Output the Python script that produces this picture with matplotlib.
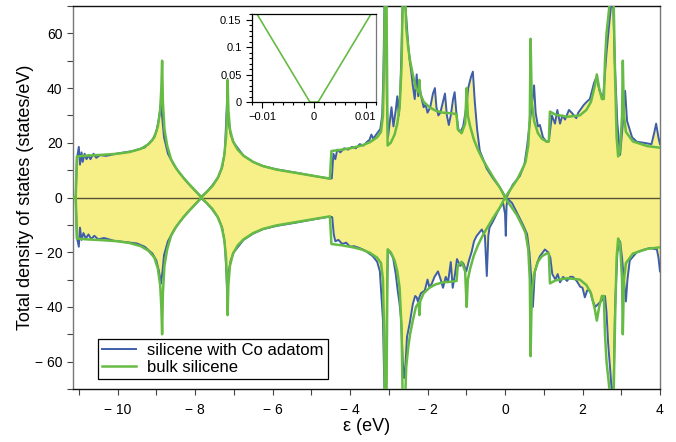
import matplotlib
matplotlib.use("Agg")
import matplotlib.pyplot as plt
from matplotlib.ticker import MultipleLocator, FuncFormatter

plt.rcParams['font.family'] = ['Liberation Sans', 'DejaVu Sans']

# bulk silicene DOS (symmetric spin up / spin down), (energy eV, states/eV)
green_pts = [
    (-11.15, 0), (-11.08, 0), (-11.05, 15.0), (-10.8, 15.3), (-10.4, 15.6), (-10.0, 16.0),
    (-9.7, 16.6), (-9.4, 17.8), (-9.2, 19.5), (-9.05, 22), (-8.96, 26), (-8.9, 32),
    (-8.87, 40), (-8.85, 50), (-8.83, 35), (-8.79, 25), (-8.72, 19), (-8.62, 14),
    (-8.48, 10.5), (-8.3, 7.2), (-8.14, 4.7), (-7.98, 2.3), (-7.84, 0), (-7.7, 2.0),
    (-7.55, 4.2), (-7.42, 7.0), (-7.32, 10.5), (-7.25, 15), (-7.2, 22), (-7.17, 32),
    (-7.16, 43), (-7.14, 32), (-7.1, 25), (-7.02, 20.5), (-6.9, 17.5), (-6.75, 15.3),
    (-6.5, 13.0), (-6.25, 11.5), (-5.9, 10.2), (-5.4, 9.0), (-4.9, 7.8), (-4.52, 6.9),
    (-4.48, 17.0), (-4.2, 17.5), (-3.93, 18.2), (-3.7, 19.0), (-3.49, 20.2), (-3.3, 22),
    (-3.2, 24), (-3.15, 30), (-3.12, 50), (-3.1, 75), (-3.06, 75), (-3.03, 19),
    (-2.95, 20), (-2.85, 23), (-2.78, 27), (-2.72, 33), (-2.67, 48), (-2.64, 75),
    (-2.58, 75), (-2.55, 62), (-2.5, 55), (-2.45, 50), (-2.38, 45), (-2.3, 40),
    (-2.23, 38.5), (-2.21, 43), (-2.19, 38), (-2.1, 35), (-1.95, 33), (-1.8, 31.8),
    (-1.6, 31), (-1.4, 30.8), (-1.25, 30.5), (-1.22, 25), (-1.12, 23.5), (-1.03, 27),
    (-0.99, 40), (-0.96, 30), (-0.9, 26), (-0.8, 21), (-0.7, 17.5), (-0.58, 14),
    (-0.47, 11.3), (-0.3, 7.3), (-0.13, 3.6), (0.0, 0.0), (0.12, 2.5), (0.31, 6.5),
    (0.45, 10.5), (0.53, 13), (0.6, 19), (0.64, 30), (0.66, 58), (0.69, 35),
    (0.75, 28), (0.85, 23.5), (0.95, 21.5), (1.08, 20.4), (1.13, 20.5), (1.16, 31.4),
    (1.3, 30.3), (1.6, 29.5), (1.93, 30), (2.1, 32), (2.22, 35), (2.32, 41),
    (2.37, 45), (2.43, 40), (2.5, 36), (2.55, 36), (2.58, 50), (2.62, 60),
    (2.68, 68), (2.72, 75), (2.8, 75), (2.84, 45), (2.88, 22), (2.92, 15),
    (2.97, 17), (3.02, 30), (3.04, 50), (3.07, 30), (3.12, 24), (3.3, 20.5),
    (3.67, 18.8), (4.0, 18.2),
]

# silicene with Co adatom, spin up (energy, DOS)
co_up_pts = [
    (-11.15, 0), (-11.08, 0), (-11.05, 14), (-11.0, 18.5), (-10.97, 12), (-10.93, 16.5),
    (-10.9, 13), (-10.85, 16), (-10.8, 14), (-10.75, 15.5), (-10.7, 14), (-10.62, 16),
    (-10.55, 14.5), (-10.45, 15.5), (-10.3, 15.2), (-10.0, 16.1), (-9.6, 17), (-9.3, 18.3),
    (-9.1, 21), (-9.0, 24), (-8.93, 29), (-8.88, 34.5), (-8.84, 28), (-8.8, 22),
    (-8.7, 16), (-8.55, 12), (-8.4, 9), (-8.2, 5.5), (-8.0, 2.5), (-7.84, 0.3),
    (-7.7, 2), (-7.55, 4.5), (-7.4, 7.5), (-7.3, 11), (-7.23, 17), (-7.19, 30),
    (-7.17, 37), (-7.14, 28), (-7.08, 23), (-7.0, 20), (-6.75, 15.3), (-6.5, 13),
    (-6.25, 11.5), (-5.9, 10.3), (-5.4, 9.1), (-4.9, 7.8), (-4.52, 6.9), (-4.47, 7),
    (-4.43, 16), (-4.38, 14), (-4.33, 17.5), (-4.25, 16.5), (-4.15, 18), (-4.05, 17.5),
    (-3.95, 18.5), (-3.85, 18), (-3.75, 19.5), (-3.65, 19), (-3.55, 20.5), (-3.5, 21),
    (-3.45, 23), (-3.4, 21.5), (-3.3, 23.5), (-3.22, 25), (-3.17, 30), (-3.14, 45),
    (-3.11, 72), (-3.07, 72), (-3.05, 35), (-3.02, 22), (-2.98, 27), (-2.93, 33),
    (-2.88, 26), (-2.82, 32), (-2.78, 37), (-2.74, 30), (-2.7, 40), (-2.67, 55),
    (-2.64, 72), (-2.58, 72), (-2.54, 64), (-2.5, 56), (-2.46, 50), (-2.42, 46),
    (-2.38, 41), (-2.33, 36), (-2.28, 45), (-2.24, 37), (-2.2, 40), (-2.15, 36),
    (-2.1, 33), (-2.05, 34), (-2.0, 31), (-1.93, 33), (-1.86, 38), (-1.81, 40),
    (-1.77, 33), (-1.72, 30), (-1.67, 31), (-1.6, 35), (-1.55, 38), (-1.5, 30),
    (-1.45, 26.5), (-1.4, 30), (-1.34, 36), (-1.3, 38.5), (-1.25, 30), (-1.2, 24.5),
    (-1.15, 24), (-1.08, 26), (-1.0, 33), (-0.95, 40), (-0.88, 44), (-0.83, 46),
    (-0.78, 35), (-0.72, 25), (-0.65, 17), (-0.55, 13.5), (-0.47, 10.5), (-0.31, 7),
    (-0.13, 3.6), (0.0, 0.5), (0.05, 0.3), (0.2, 4.7), (0.38, 7.8), (0.5, 12),
    (0.57, 18.7), (0.66, 30), (0.71, 36), (0.75, 41), (0.79, 31), (0.85, 26),
    (0.9, 26.5), (0.98, 22), (1.07, 20.4), (1.13, 20.5), (1.21, 30), (1.29, 27),
    (1.35, 32), (1.42, 27), (1.48, 30), (1.55, 28.5), (1.65, 32), (1.72, 31),
    (1.84, 29), (1.89, 31), (1.94, 32), (2.03, 33.8), (2.11, 35), (2.19, 36),
    (2.3, 42), (2.36, 44), (2.44, 39), (2.53, 36), (2.62, 53), (2.7, 65),
    (2.75, 72), (2.79, 72), (2.83, 50), (2.9, 27), (2.97, 15.6), (3.04, 27),
    (3.1, 39), (3.15, 28), (3.28, 22), (3.4, 20.4), (3.58, 20), (3.78, 19.5),
    (3.85, 23.6), (3.9, 27), (3.96, 22), (4.0, 19.5),
]

# silicene with Co adatom, spin down (energy, |DOS|)
co_dn_pts = [
    (-11.15, 0), (-11.08, 0), (-11.05, 14.5), (-11.0, 18), (-10.97, 11), (-10.93, 15.5),
    (-10.88, 13), (-10.82, 15), (-10.75, 13.5), (-10.68, 15.2), (-10.6, 14), (-10.5, 15.3),
    (-10.35, 14.8), (-10.1, 15.8), (-9.8, 16.3), (-9.5, 16.8), (-9.3, 18), (-9.1, 20.5),
    (-9.0, 23), (-8.93, 27), (-8.88, 31.5), (-8.84, 27), (-8.8, 21), (-8.7, 16),
    (-8.55, 12), (-8.4, 9), (-8.2, 5.5), (-8.0, 2.5), (-7.84, 0.3), (-7.7, 2),
    (-7.55, 4.5), (-7.4, 7.5), (-7.3, 11), (-7.23, 17), (-7.19, 28), (-7.17, 36),
    (-7.14, 28), (-7.08, 23), (-7.0, 20), (-6.75, 15.5), (-6.5, 13.2), (-6.25, 11.6),
    (-5.9, 10.4), (-5.4, 9.2), (-4.9, 7.9), (-4.52, 7.0), (-4.46, 7.2), (-4.42, 13.5),
    (-4.38, 16), (-4.3, 15.5), (-4.2, 17), (-4.1, 16.5), (-4.0, 18), (-3.9, 17.8),
    (-3.75, 18.5), (-3.6, 19.5), (-3.41, 21.5), (-3.3, 23.5), (-3.23, 27), (-3.15, 45),
    (-3.11, 72), (-3.07, 72), (-3.04, 30), (-3.02, 19), (-2.95, 20.5), (-2.89, 22),
    (-2.82, 28), (-2.77, 34), (-2.72, 39), (-2.68, 45), (-2.64, 60), (-2.6, 66),
    (-2.58, 64), (-2.53, 51), (-2.46, 46), (-2.38, 39), (-2.32, 36), (-2.28, 36.5),
    (-2.25, 38), (-2.17, 35), (-2.07, 34), (-2.0, 30), (-1.95, 33), (-1.89, 31.5),
    (-1.82, 29), (-1.73, 27), (-1.66, 30), (-1.6, 33), (-1.53, 29), (-1.47, 31),
    (-1.4, 23.6), (-1.35, 33), (-1.29, 28), (-1.24, 22.5), (-1.16, 25), (-1.08, 24),
    (-1.0, 27), (-0.93, 23), (-0.86, 19.8), (-0.8, 16), (-0.73, 14), (-0.6, 11.7),
    (-0.52, 14), (-0.47, 28.7), (-0.43, 14), (-0.4, 11), (-0.31, 8.7), (-0.2, 5.5),
    (-0.13, 3.6), (-0.05, 2), (0.0, 6), (0.02, 14), (0.04, 3), (0.07, 0.5),
    (0.18, 2), (0.28, 4.8), (0.38, 7.6), (0.48, 10.5), (0.57, 13.4), (0.63, 20),
    (0.68, 30), (0.72, 40), (0.77, 27), (0.84, 23.5), (0.9, 21.5), (1.03, 19),
    (1.11, 20), (1.17, 22), (1.22, 28), (1.3, 30), (1.36, 28), (1.42, 31),
    (1.5, 29), (1.6, 30.5), (1.68, 29), (1.75, 29), (1.85, 30.5), (1.94, 32.6),
    (2.0, 33), (2.06, 36.5), (2.12, 34), (2.19, 34), (2.27, 38), (2.33, 40),
    (2.4, 39), (2.5, 37.6), (2.58, 36), (2.62, 42), (2.66, 53), (2.72, 64),
    (2.76, 72), (2.8, 72), (2.84, 40), (2.9, 20), (2.97, 16), (3.02, 22),
    (3.08, 32), (3.12, 38), (3.16, 30), (3.22, 23), (3.4, 20), (3.6, 19),
    (3.74, 18.5), (3.92, 19), (3.96, 22), (4.0, 27),
]

# inset: bulk silicene near the Dirac point
inset_e = [-0.012, -0.0008, 0.0008, 0.012]
inset_dos = [0.175, 0.0, 0.0, 0.175]

labels = ["silicene with Co adatom", "bulk silicene"]
BLUE = "#3e5ea8"
GREEN = "#66bb44"
FILL = "#f7ef88"

ge, gv = zip(*green_pts)
ue, uv = zip(*co_up_pts)
de, dv = zip(*co_dn_pts)
dv_neg = [-v for v in dv]
gv_neg = [-v for v in gv]

fig = plt.figure(figsize=(6.76, 4.42), dpi=100)
ax = fig.add_axes([73/676, 1-389/442, 587/676, 383/442])

ax.fill_between(ue, uv, 0, color=FILL, lw=0, zorder=1)
ax.fill_between(de, dv_neg, 0, color=FILL, lw=0, zorder=1)
ax.axhline(0, color="#555533", lw=1.0, zorder=2)
lb, = ax.plot(ue, uv, color=BLUE, lw=1.4, zorder=3, label=labels[0])
ax.plot(de, dv_neg, color=BLUE, lw=1.4, zorder=3)
lg, = ax.plot(ge, gv, color=GREEN, lw=1.8, zorder=4, label=labels[1])
ax.plot(ge, gv_neg, color=GREEN, lw=1.8, zorder=4)

ax.set_xlim(-11.15, 4)
ax.set_ylim(-70, 70)

def fmt(v, pos):
    iv = int(round(v))
    return f"\u2212 {abs(iv)}" if iv < 0 else f"{iv}"

ax.xaxis.set_major_locator(MultipleLocator(2))
ax.xaxis.set_minor_locator(MultipleLocator(1))
ax.yaxis.set_major_locator(MultipleLocator(20))
ax.yaxis.set_minor_locator(MultipleLocator(10))
ax.xaxis.set_major_formatter(FuncFormatter(fmt))
ax.yaxis.set_major_formatter(FuncFormatter(fmt))
ax.tick_params(which='both', direction='out', length=4, width=0.8, labelsize=10, color="#444444")
ax.tick_params(axis='x', pad=6)
for s in ['left', 'right']:
    ax.spines[s].set_color('#777777')
for s in ['top', 'bottom']:
    ax.spines[s].set_color('#111111')
for s in ax.spines.values():
    s.set_linewidth(1.0)

ax.set_xlabel("\u03b5 (eV)", fontsize=13, labelpad=1)
ax.set_ylabel("Total density of states (states/eV)", fontsize=13)
ax.yaxis.set_label_coords(-0.066, 0.5)

leg = ax.legend(handles=[lb, lg], loc='lower left', bbox_to_anchor=(0.043, 0.026),
                borderaxespad=0, fancybox=False, framealpha=1, edgecolor='black',
                fontsize=12, handlelength=2.0, handletextpad=0.7, borderpad=0.25,
                labelspacing=0.1)
leg.get_frame().set_linewidth(0.9)

# inset
ins = fig.add_axes([252/676, 1-102/442, 124/676, 88/442])
ins.plot(inset_e, inset_dos, color=GREEN, lw=1.2)
ins.set_xlim(-0.012, 0.012)
ins.set_ylim(0, 0.16)
ins.xaxis.set_major_locator(MultipleLocator(0.01))
ins.xaxis.set_minor_locator(MultipleLocator(0.002))
ins.yaxis.set_major_locator(MultipleLocator(0.05))
ins.yaxis.set_minor_locator(MultipleLocator(0.01))
ins.xaxis.set_major_formatter(FuncFormatter(lambda v, p: "0" if abs(v) < 1e-9 else (f"\u22120.01" if v < 0 else "0.01")))
ins.yaxis.set_major_formatter(FuncFormatter(lambda v, p: "0" if abs(v) < 1e-9 else f"{v:g}"))
ins.tick_params(which='both', direction='out', labelsize=8, width=0.8)
ins.tick_params(which='major', length=4)
ins.tick_params(which='minor', length=2.5)
for s in ins.spines.values():
    s.set_linewidth(0.9)
ins.spines['right'].set_color('#777777')

fig.savefig("out.png", dpi=100)
